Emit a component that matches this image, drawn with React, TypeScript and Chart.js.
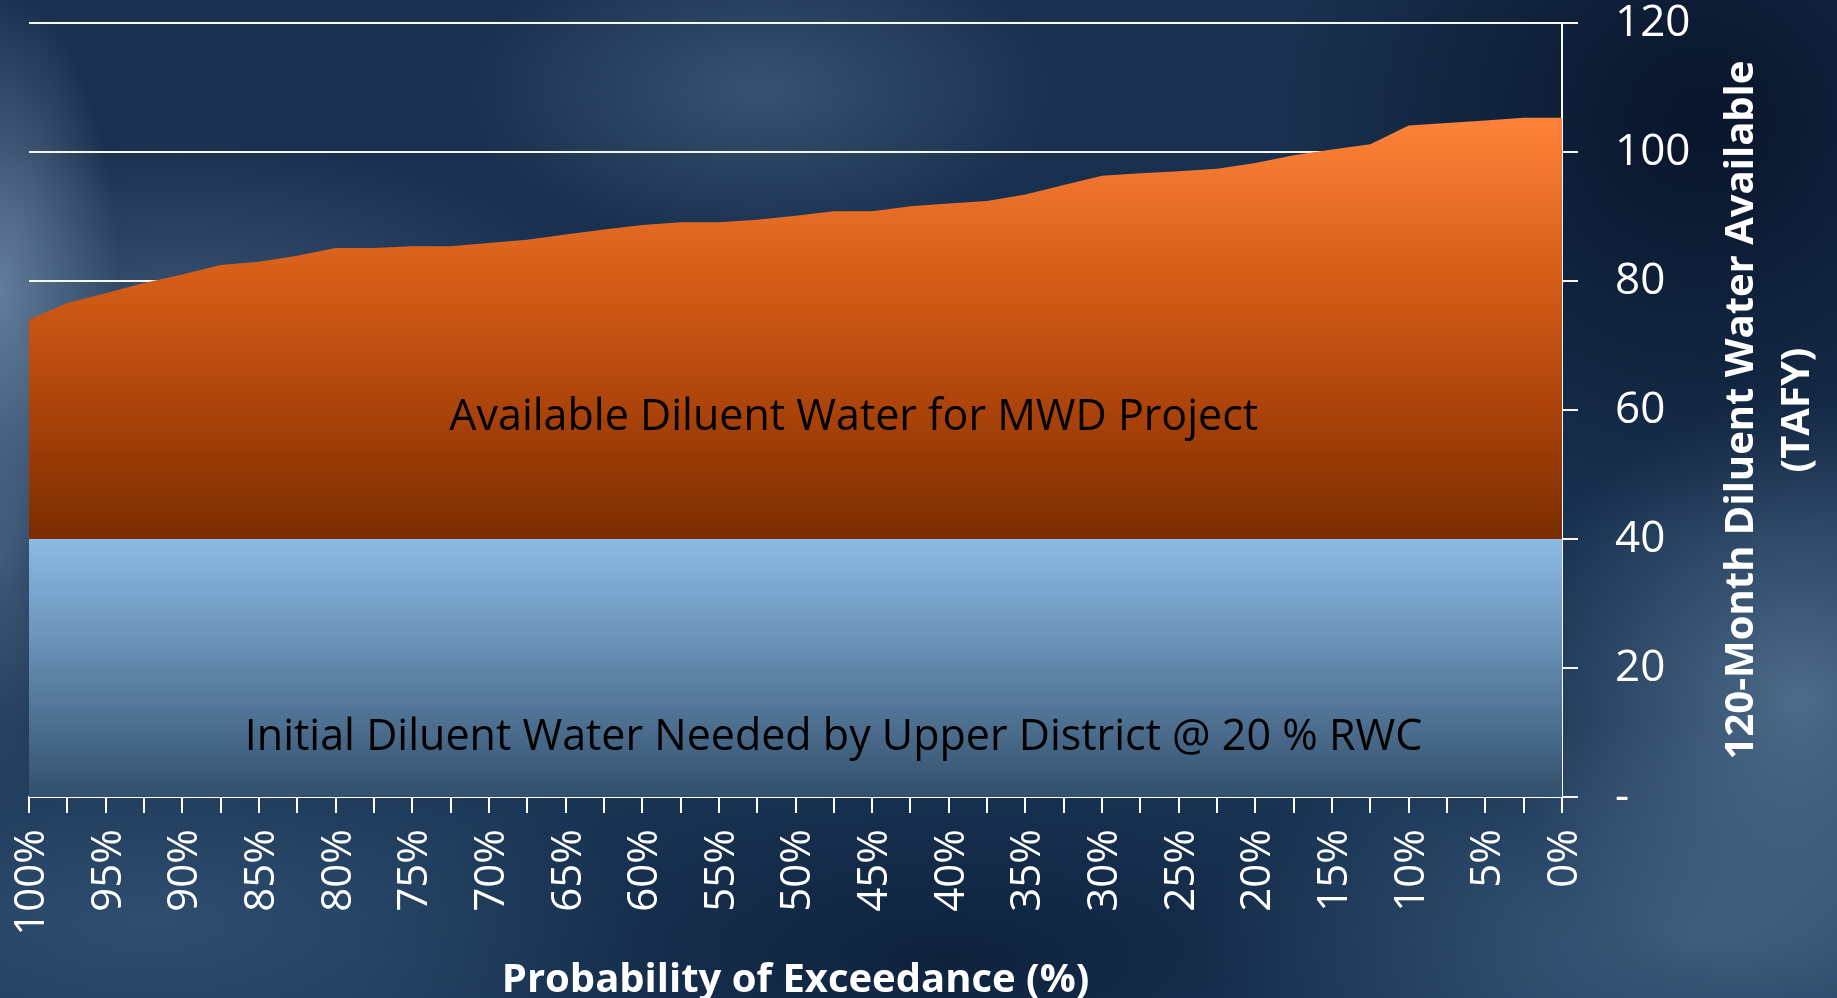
import React, { useEffect, useRef } from 'react';
import { Chart, registerables } from 'chart.js';

Chart.register(...registerables);

// Probability of exceedance (%) — category axis, one point every 2.5 %
const exceedance: number[] = [
  100, 97.5, 95, 92.5, 90, 87.5, 85, 82.5, 80, 77.5, 75, 72.5, 70, 67.5, 65, 62.5, 60, 57.5, 55, 52.5,
  50, 47.5, 45, 42.5, 40, 37.5, 35, 32.5, 30, 27.5, 25, 22.5, 20, 17.5, 15, 12.5, 10, 7.5, 5, 2.5, 0,
];

// Total 120-month diluent water available (TAFY)
const availableWater: number[] = [
  74.0, 76.6, 78.1, 79.7, 81.0, 82.5, 83.0, 83.9, 85.1, 85.1, 85.4, 85.4, 85.9, 86.4, 87.2, 88.0, 88.7,
  89.1, 89.1, 89.5, 90.1, 90.8, 90.8, 91.6, 92.0, 92.4, 93.4, 94.9, 96.3, 96.7, 97.0, 97.4, 98.3, 99.5,
  100.4, 101.2, 104.1, 104.5, 104.9, 105.3, 105.3,
];

// Initial diluent water needed by Upper District (TAFY)
const upperDistrictNeed: number[] = [
  40, 40, 40, 40, 40, 40, 40, 40, 40, 40, 40, 40, 40, 40, 40, 40, 40, 40, 40, 40, 40,
  40, 40, 40, 40, 40, 40, 40, 40, 40, 40, 40, 40, 40, 40, 40, 40, 40, 40, 40, 40,
];

const yMin = 0;
const yMax = 120;
const yStep = 20;

const labelAvailable = 'Available Diluent Water for MWD Project';
const labelNeeded = 'Initial Diluent Water Needed by Upper District @ 20 % RWC';
const xTitle = 'Probability of Exceedance (%)';
const yTitleLines = ['120-Month Diluent Water Available', '(TAFY)'];

const FONT = '"Open Sans", "Liberation Sans", sans-serif';

function orangeFill(ctx: any) {
  const chart = ctx.chart;
  const y = chart.scales?.y;
  if (!chart.chartArea || !y) return '#c0500f';
  const top = y.getPixelForValue(105.3);
  const bottom = y.getPixelForValue(40);
  const g = chart.ctx.createLinearGradient(0, top, 0, bottom);
  g.addColorStop(0, '#ff833a');
  g.addColorStop(0.387, '#d45c17');
  g.addColorStop(0.694, '#ab430a');
  g.addColorStop(1, '#7a2c00');
  return g;
}

function blueFill(ctx: any) {
  const chart = ctx.chart;
  const y = chart.scales?.y;
  if (!chart.chartArea || !y) return '#6690b5';
  const top = y.getPixelForValue(40);
  const bottom = y.getPixelForValue(0);
  const g = chart.ctx.createLinearGradient(0, top, 0, bottom);
  g.addColorStop(0, '#8cbae4');
  g.addColorStop(0.375, '#6b95ba');
  g.addColorStop(0.75, '#4a6b8c');
  g.addColorStop(1, '#33506c');
  return g;
}

const textPlugin = {
  id: 'customTexts',
  afterDatasetsDraw(chart: any) {
    const { ctx, chartArea: a } = chart;
    const y = chart.scales.y;
    const w = a.right - a.left;
    ctx.save();
    ctx.fillStyle = '#000000';
    ctx.font = `43px ${FONT}`;
    ctx.textAlign = 'center';
    ctx.textBaseline = 'alphabetic';
    ctx.fillText(labelAvailable, a.left + w * 0.538, y.getPixelForValue(56.9));
    ctx.fillText(labelNeeded, a.left + w * 0.5248, y.getPixelForValue(7.3));
    ctx.restore();
  },
  afterDraw(chart: any) {
    const { ctx, chartArea: a } = chart;
    ctx.save();
    ctx.fillStyle = '#ffffff';
    ctx.font = `bold 40px ${FONT}`;
    ctx.textAlign = 'center';
    ctx.textBaseline = 'alphabetic';
    ctx.fillText(xTitle, (a.left + a.right) / 2, chart.height - 6);
    ctx.translate(a.right + 180, (a.top + a.bottom) / 2);
    ctx.rotate(-Math.PI / 2);
    ctx.textBaseline = 'middle';
    yTitleLines.forEach((line, i) => ctx.fillText(line, 0, i * 56));
    ctx.restore();
  },
};

function zeroPad(s: any) {
  s.paddingLeft = 0;
  s.paddingRight = 0;
  s.paddingTop = 0;
  s.paddingBottom = 0;
}

export default function App() {
  const ref = useRef<HTMLCanvasElement | null>(null);

  useEffect(() => {
    if (!ref.current) return;
    const chart = new Chart(ref.current, {
      type: 'line',
      data: {
        labels: exceedance.map((v) => `${v}%`),
        datasets: [
          {
            label: 'Initial Diluent Water Needed',
            data: upperDistrictNeed,
            fill: 'origin',
            backgroundColor: blueFill,
            borderWidth: 0,
            pointRadius: 0,
            tension: 0,
          },
          {
            label: 'Available Diluent Water',
            data: availableWater,
            fill: '-1',
            backgroundColor: orangeFill,
            borderWidth: 0,
            pointRadius: 0,
            tension: 0,
          },
        ],
      },
      options: {
        responsive: false,
        animation: false,
        devicePixelRatio: 1,
        layout: { padding: { left: 29, top: 23, right: 0, bottom: 0 } },
        plugins: {
          legend: { display: false },
          tooltip: { enabled: false },
          title: { display: false },
        },
        scales: {
          x: {
            type: 'category',
            offset: false,
            afterFit: (s: any) => {
              s.height = 201;
              zeroPad(s);
            },
            grid: {
              drawOnChartArea: false,
              drawTicks: true,
              tickLength: 16,
              color: '#ffffff',
              lineWidth: 2,
              offset: false,
            },
            border: { display: true, color: '#ffffff', width: 2 },
            ticks: {
              autoSkip: false,
              maxRotation: 90,
              minRotation: 90,
              padding: 16,
              labelOffset: 3,
              color: '#ffffff',
              font: { family: FONT, size: 42 },
              callback: (_v: any, i: number) => (i % 2 === 0 ? `${exceedance[i]}%` : ''),
            },
          },
          y: {
            position: 'right',
            min: yMin,
            max: yMax,
            afterFit: (s: any) => {
              s.width = 275;
              zeroPad(s);
            },
            grid: {
              drawOnChartArea: true,
              drawTicks: true,
              tickLength: 16,
              color: '#f4f6f8',
              lineWidth: 2,
            },
            border: { display: true, color: '#ffffff', width: 2 },
            ticks: {
              stepSize: yStep,
              padding: 37,
              color: '#ffffff',
              font: { family: FONT, size: 44 },
              callback: (v: any) => (Number(v) === 0 ? '-' : String(v)),
            },
          },
        },
      },
      plugins: [textPlugin],
    });
    return () => chart.destroy();
  }, []);

  const bg = [
    'radial-gradient(ellipse 120px 300px at 0px 290px, rgba(105,130,160,0.9), rgba(105,130,160,0) 100%)',
    'radial-gradient(ellipse 90px 260px at 0px 560px, rgba(80,105,135,0.7), rgba(80,105,135,0) 100%)',
    'radial-gradient(ellipse 420px 160px at 180px 300px, rgba(85,110,140,0.5), rgba(85,110,140,0) 100%)',
    'radial-gradient(ellipse 300px 160px at 760px 90px, rgba(80,108,138,0.55), rgba(80,108,138,0) 100%)',
    'radial-gradient(ellipse 420px 420px at 1700px 120px, rgba(6,16,36,0.85), rgba(6,16,36,0) 100%)',
    'radial-gradient(ellipse 300px 300px at 1800px 700px, rgba(100,130,160,0.7), rgba(100,130,160,0) 100%)',
    'radial-gradient(ellipse 500px 220px at 1700px 940px, rgba(75,105,135,0.65), rgba(75,105,135,0) 100%)',
    'radial-gradient(ellipse 500px 200px at 150px 920px, rgba(60,92,125,0.6), rgba(60,92,125,0) 100%)',
    'radial-gradient(ellipse 600px 220px at 950px 960px, rgba(8,24,48,0.7), rgba(8,24,48,0) 100%)',
    'linear-gradient(180deg, #19314f 0%, #17304f 55%, #1c3a5b 100%)',
  ].join(', ');

  return (
    <div
      style={{
        position: 'fixed',
        left: 0,
        top: 0,
        width: 1837,
        height: 998,
        overflow: 'hidden',
        background: bg,
      }}
    >
      <canvas ref={ref} width={1837} height={998} style={{ display: 'block', width: 1837, height: 998 }} />
    </div>
  );
}
